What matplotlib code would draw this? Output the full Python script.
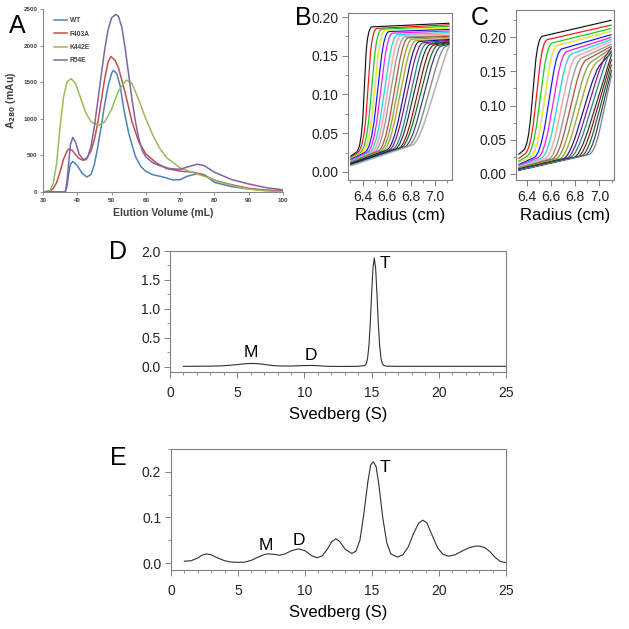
import matplotlib
matplotlib.use('Agg')
import matplotlib.pyplot as plt
from matplotlib.ticker import MultipleLocator
from matplotlib.path import Path
from matplotlib.patches import PathPatch

plt.rcParams['font.family'] = ['Liberation Sans', 'DejaVu Sans']

# ---- panel A: gel filtration traces
wt_x = [30, 36.5, 37, 37.5, 38, 38.7, 40, 41.5, 42.8, 44, 45, 46, 47, 48, 49, 50, 50.5, 51.5, 52.5, 53.5, 55, 57, 58.5, 60, 62, 65, 68, 70, 72, 75, 77, 80, 85, 90, 95, 100]
wt_y = [0, 0, 80, 250, 380, 418, 360, 250, 205, 240, 380, 620, 900, 1200, 1450, 1620, 1661, 1620, 1450, 1150, 800, 480, 350, 282, 237, 205, 164, 168, 214, 250, 237, 132, 73, 41, 23, 18]

f403a_x = [30, 32, 33, 34, 35, 36, 37, 37.5, 38.5, 39.5, 40.5, 41.5, 42.5, 44, 45, 46, 47, 48, 49, 49.8, 51, 52, 54, 56, 58, 60, 63, 66, 70, 74, 77, 80, 85, 90, 95, 100]
f403a_y = [0, 10, 50, 130, 280, 450, 560, 587, 570, 510, 460, 435, 440, 560, 720, 950, 1250, 1550, 1780, 1850, 1800, 1700, 1350, 950, 680, 520, 400, 320, 285, 270, 230, 160, 100, 50, 25, 15]

k442e_x = [30, 32, 33, 34, 35, 36, 37, 38.2, 39.5, 41, 42.5, 44, 46.2, 48, 50, 52, 54.3, 56, 58, 60, 62, 64, 66, 70, 74, 78, 82, 86, 90, 95, 100]
k442e_y = [0, 20, 120, 400, 900, 1300, 1500, 1548, 1480, 1280, 1080, 960, 910, 960, 1130, 1380, 1530, 1480, 1250, 1000, 780, 600, 470, 330, 260, 200, 130, 80, 40, 15, 5]

r54e_x = [30, 36.5, 37, 37.5, 38, 38.7, 39.5, 40.5, 41.8, 43, 44, 45, 46, 47, 48, 49, 50, 51.2, 52, 53, 54, 55, 56, 57, 58, 59, 60, 62, 64, 67, 70, 72, 75, 77, 80, 85, 90, 95, 100]
r54e_y = [0, 0, 150, 400, 650, 746, 680, 520, 441, 470, 620, 900, 1250, 1600, 1950, 2220, 2380, 2425, 2400, 2250, 1950, 1600, 1250, 950, 720, 560, 480, 400, 360, 320, 310, 340, 380, 360, 270, 170, 110, 60, 30]

a_names = ['WT', 'F403A', 'K442E', 'R54E']
a_colors = ['#4F81BD', '#C0504D', '#9BBB59', '#8064A2']

# ---- panels B and C: boundary scans (start, foot, shoulder, end)
b_start_y = [0.020, 0.019, 0.018, 0.017, 0.016, 0.015, 0.014, 0.013, 0.013, 0.012, 0.012, 0.011, 0.011, 0.010, 0.010, 0.010, 0.009, 0.009, 0.009, 0.008, 0.008]
b_foot_x = [6.39, 6.41, 6.43, 6.45, 6.47, 6.49, 6.51, 6.53, 6.55, 6.58, 6.60, 6.62, 6.65, 6.67, 6.70, 6.72, 6.75, 6.77, 6.80, 6.83, 6.86]
b_foot_y = [0.030, 0.030, 0.029, 0.029, 0.029, 0.029, 0.029, 0.029, 0.029, 0.030, 0.030, 0.030, 0.031, 0.031, 0.032, 0.032, 0.033, 0.034, 0.035, 0.036, 0.037]
b_top_x = [6.44, 6.48, 6.52, 6.55, 6.58, 6.61, 6.65, 6.68, 6.71, 6.74, 6.77, 6.80, 6.83, 6.86, 6.89, 6.92, 6.95, 6.98, 7.01, 7.05, 7.10]
b_top_y = [0.187, 0.185, 0.184, 0.183, 0.181, 0.179, 0.177, 0.176, 0.174, 0.173, 0.171, 0.169, 0.168, 0.166, 0.165, 0.164, 0.163, 0.162, 0.161, 0.159, 0.158]
b_end_y = [0.192, 0.190, 0.188, 0.186, 0.184, 0.182, 0.180, 0.178, 0.176, 0.175, 0.174, 0.172, 0.171, 0.170, 0.169, 0.168, 0.167, 0.166, 0.165, 0.164, 0.162]

c_start_y = [0.028, 0.022, 0.018, 0.016, 0.013, 0.012, 0.011, 0.010, 0.009, 0.008, 0.008, 0.007, 0.007, 0.006, 0.006, 0.005, 0.005, 0.005, 0.005, 0.005]
c_foot_x = [6.41, 6.43, 6.45, 6.48, 6.51, 6.54, 6.57, 6.60, 6.63, 6.66, 6.69, 6.72, 6.75, 6.78, 6.81, 6.84, 6.87, 6.90, 6.93, 6.96]
c_foot_y = [0.040, 0.035, 0.031, 0.029, 0.028, 0.027, 0.026, 0.025, 0.024, 0.024, 0.024, 0.024, 0.024, 0.025, 0.026, 0.026, 0.027, 0.028, 0.029, 0.030]
c_top_x = [6.49, 6.53, 6.57, 6.61, 6.65, 6.69, 6.73, 6.77, 6.81, 6.85, 6.89, 6.93, 6.97, 7.02, 7.06, 7.10, 7.10, 7.10, 7.10, 7.10]
c_top_y = [0.200, 0.195, 0.190, 0.186, 0.181, 0.177, 0.173, 0.169, 0.166, 0.163, 0.159, 0.156, 0.153, 0.165, 0.170, 0.175, 0.168, 0.160, 0.152, 0.145]
c_end_y = [0.225, 0.218, 0.213, 0.209, 0.204, 0.200, 0.197, 0.194, 0.190, 0.187, 0.184, 0.181, 0.178, 0.185, 0.180, 0.175, 0.168, 0.160, 0.152, 0.145]

scan_colors = ['black', 'red', '#00d000', '#f0f000', '#0000ff', '#ff00ff', '#00e0e0', '#ff9fa0',
               '#909090', '#b04020', '#70a030', '#b0a000', '#000090', '#800080', '#008080',
               '#202020', '#800000', '#006400', '#203080', '#708070', '#a8a8a8']

# ---- panels D and E: c(s) distributions
d_s = [1.0, 3.0, 4.0, 5.0, 5.5, 6.0, 6.5, 7.0, 7.5, 8.0, 9.0, 10.0, 10.5, 11.0, 11.5, 12.0, 13.0, 14.0,
       14.5, 14.6, 14.7, 14.8, 14.9, 15.0, 15.1, 15.2, 15.3, 15.4, 15.5, 15.6, 15.7, 15.8, 15.9, 16.1, 17.0, 25.0]
d_c = [0.005, 0.008, 0.015, 0.035, 0.048, 0.055, 0.052, 0.038, 0.022, 0.012, 0.010, 0.018, 0.020, 0.016, 0.008, 0.004, 0.003, 0.005,
       0.02, 0.05, 0.14, 0.36, 0.74, 1.25, 1.70, 1.88, 1.70, 1.25, 0.74, 0.36, 0.14, 0.05, 0.02, 0.008, 0.005, 0.005]

e_s = [1.0, 1.5, 2.0, 2.3, 2.65, 3.0, 3.5, 4.0, 4.5, 5.0, 5.5, 6.0, 6.5, 7.0, 7.3, 7.7, 8.1, 8.5, 9.0, 9.5, 10.0,
       10.5, 10.9, 11.3, 11.7, 12.0, 12.3, 12.6, 13.0, 13.5, 13.8, 14.1, 14.4, 14.7, 14.9, 15.1, 15.3, 15.5, 15.8,
       16.1, 16.4, 16.9, 17.3, 17.7, 18.1, 18.5, 18.8, 19.1, 19.5, 19.9, 20.3, 20.7, 21.2, 21.7, 22.2, 22.7, 23.0,
       23.4, 23.8, 24.2, 24.6, 25.0]
e_c = [0.004, 0.005, 0.011, 0.017, 0.020, 0.018, 0.011, 0.005, 0.002, 0.0015, 0.002, 0.006, 0.013, 0.019, 0.020, 0.019,
       0.017, 0.020, 0.027, 0.031, 0.027, 0.016, 0.0115, 0.016, 0.032, 0.047, 0.053, 0.047, 0.030, 0.021, 0.026, 0.050,
       0.110, 0.180, 0.215, 0.222, 0.212, 0.175, 0.100, 0.045, 0.020, 0.013, 0.018, 0.035, 0.065, 0.088, 0.094, 0.088,
       0.060, 0.033, 0.019, 0.015, 0.018, 0.026, 0.033, 0.037, 0.037, 0.034, 0.025, 0.012, 0.003, 0.001]

W = 629.0


def box(left, top, right, bottom):
    return [left / W, 1 - bottom / W, (right - left) / W, (bottom - top) / W]


fig = plt.figure(figsize=(6.29, 6.29), dpi=100)

# ---------- A
axA = fig.add_axes(box(43, 9, 283, 192))
for xs, ys, name, col in zip([wt_x, f403a_x, k442e_x, r54e_x], [wt_y, f403a_y, k442e_y, r54e_y], a_names, a_colors):
    axA.plot(xs, ys, color=col, lw=1.1, label=name)
axA.set_xlim(30, 100)
axA.set_ylim(0, 2500)
axA.set_xticks(range(30, 101, 10))
axA.set_yticks(range(0, 2501, 500))
for s in ['top', 'right']:
    axA.spines[s].set_visible(False)
for s in ['left', 'bottom']:
    axA.spines[s].set_color('#868686')
    axA.spines[s].set_linewidth(0.8)
axA.tick_params(labelsize=4.5, length=2, width=0.6, color='#868686', labelcolor='#404040', pad=2)
for t in axA.get_xticklabels() + axA.get_yticklabels():
    t.set_fontweight('bold')
axA.set_xlabel('Elution Volume (mL)', fontsize=7.5, fontweight='bold', color='#404040', labelpad=4)
axA.set_ylabel('A$_{\\mathbf{280}}$ (mAu)', fontsize=7.5, fontweight='bold', color='#404040', labelpad=4)
leg = axA.legend(loc='upper left', bbox_to_anchor=(0.045, 0.955), frameon=False, fontsize=4.8,
                 handlelength=2.0, handletextpad=0.4, labelspacing=0.95, borderpad=0, borderaxespad=0)
for t in leg.get_texts():
    t.set_fontweight('bold')
    t.set_color('#404040')


def along(p, q, f):
    return (p[0] + (q[0] - p[0]) * f, p[1] + (q[1] - p[1]) * f)


def scans(ax, x0, x1, start_y, foot_x, foot_y, top_x, top_y, end_y):
    # straight baseline and plateau, boundary corners rounded at foot and shoulder
    codes = [Path.MOVETO, Path.LINETO, Path.CURVE3, Path.CURVE3, Path.LINETO,
             Path.CURVE3, Path.CURVE3, Path.LINETO]
    for layer in range(2):
        for i in range(len(start_y)):
            s = (x0, start_y[i])
            f = (foot_x[i], foot_y[i])
            t = (top_x[i], top_y[i])
            e = (x1, end_y[i])
            kf = min(0.45, 0.05 / max(f[0] - s[0], 1e-6))
            kt = min(0.45, 0.04 / max(e[0] - t[0], 1e-6))
            verts = [s, along(f, s, kf), f, along(f, t, 0.3), along(t, f, 0.25), t,
                     along(t, e, kt), e]
            if layer == 0:
                p = PathPatch(Path(verts, codes), fill=False, ec='#e2e2e2', lw=1.6, zorder=1)
            else:
                p = PathPatch(Path(verts, codes), fill=False, ec=scan_colors[i % len(scan_colors)], lw=0.7, zorder=2)
            ax.add_patch(p)


def style_box(ax):
    for s in ax.spines.values():
        s.set_color('#808080')
        s.set_linewidth(0.8)
    ax.tick_params(which='both', direction='out', color='#808080', labelcolor='#222222', labelsize=10)
    ax.tick_params(which='major', length=4, width=0.7, pad=3)
    ax.tick_params(which='minor', length=2.5, width=0.6)


# ---------- B
axB = fig.add_axes(box(348, 13, 452, 180))
scans(axB, 6.30, 7.12, b_start_y, b_foot_x, b_foot_y, b_top_x, b_top_y, b_end_y)
axB.set_xlim(6.28, 7.14)
axB.set_ylim(-0.0105, 0.2052)
axB.set_xticks([6.4, 6.6, 6.8, 7.0])
axB.set_xticklabels(['6.4', '6.6', '6.8', '7.0'])
axB.xaxis.set_minor_locator(MultipleLocator(0.1))
axB.set_yticks([0.0, 0.05, 0.10, 0.15, 0.20])
axB.set_yticklabels(['0.00', '0.05', '0.10', '0.15', '0.20'])
axB.yaxis.set_minor_locator(MultipleLocator(0.025))
style_box(axB)
axB.set_xlabel('Radius (cm)', fontsize=12, labelpad=3)

# ---------- C
axC = fig.add_axes(box(516, 10, 614, 180))
scans(axC, 6.33, 7.10, c_start_y, c_foot_x, c_foot_y, c_top_x, c_top_y, c_end_y)
axC.set_xlim(6.31, 7.12)
axC.set_ylim(-0.0092, 0.24)
axC.set_xticks([6.4, 6.6, 6.8, 7.0])
axC.set_xticklabels(['6.4', '6.6', '6.8', '7.0'])
axC.xaxis.set_minor_locator(MultipleLocator(0.1))
axC.set_yticks([0.0, 0.05, 0.10, 0.15, 0.20])
axC.set_yticklabels(['0.00', '0.05', '0.10', '0.15', '0.20'])
axC.yaxis.set_minor_locator(MultipleLocator(0.025))
style_box(axC)
axC.set_xlabel('Radius (cm)', fontsize=12, labelpad=3)

# ---------- D
axD = fig.add_axes(box(170, 251, 506, 372))
axD.plot(d_s, d_c, color='#303030', lw=0.8)
axD.set_xlim(0, 25)
axD.set_ylim(-0.093, 2.0)
axD.set_xticks([0, 5, 10, 15, 20, 25])
axD.xaxis.set_minor_locator(MultipleLocator(1))
axD.set_yticks([0.0, 0.5, 1.0, 1.5, 2.0])
axD.set_yticklabels(['0.0', '0.5', '1.0', '1.5', '2.0'])
axD.yaxis.set_minor_locator(MultipleLocator(0.25))
style_box(axD)
axD.tick_params(axis='x', which='major', pad=6)
axD.set_xlabel('Svedberg (S)', fontsize=12, labelpad=5)
axD.text(6.0, 0.24, 'M', fontsize=12.5, ha='center', va='center')
axD.text(10.5, 0.19, 'D', fontsize=12.5, ha='center', va='center')
axD.text(16.0, 1.78, 'T', fontsize=12.5, ha='center', va='center')

# ---------- E
axE = fig.add_axes(box(171, 449, 506, 570))
axE.plot(e_s, e_c, color='#303030', lw=0.8)
axE.set_xlim(0, 25)
axE.set_ylim(-0.0153, 0.25)
axE.set_xticks([0, 5, 10, 15, 20, 25])
axE.xaxis.set_minor_locator(MultipleLocator(1))
axE.set_yticks([0.0, 0.1, 0.2])
axE.set_yticklabels(['0.0', '0.1', '0.2'])
axE.yaxis.set_minor_locator(MultipleLocator(0.05))
style_box(axE)
axE.tick_params(axis='x', which='major', pad=6)
axE.set_xlabel('Svedberg (S)', fontsize=12, labelpad=5)
axE.text(7.05, 0.038, 'M', fontsize=12.5, ha='center', va='center')
axE.text(9.55, 0.050, 'D', fontsize=12.5, ha='center', va='center')
axE.text(15.97, 0.209, 'T', fontsize=12.5, ha='center', va='center')

# ---------- panel letters
for letter, px, py in [('A', 17, 26), ('B', 303, 18), ('C', 480, 18), ('D', 118, 252), ('E', 118, 458)]:
    fig.text(px / W, 1 - py / W, letter, fontsize=18, ha='center', va='center')

fig.savefig('out.png', dpi=100)
